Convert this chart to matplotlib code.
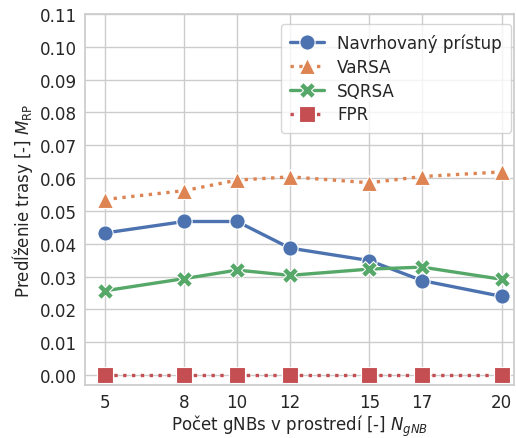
import matplotlib
matplotlib.use("Agg")
import matplotlib.pyplot as plt
import seaborn as sns

gnb_counts = [5, 8, 10, 12, 15, 17, 20]
navrhovany = [0.0433, 0.0468, 0.0468, 0.0387, 0.0349, 0.0288, 0.0240]
varsa = [0.0535, 0.0562, 0.0594, 0.0604, 0.0586, 0.0605, 0.0619]
sqrsa = [0.0257, 0.0294, 0.0320, 0.0304, 0.0323, 0.0329, 0.0292]
fpr = [0.0, 0.0, 0.0, 0.0, 0.0, 0.0, 0.0]
series_names = ["Navrhovaný prístup", "VaRSA", "SQRSA", "FPR"]
y_ticks = [0.00, 0.01, 0.02, 0.03, 0.04, 0.05, 0.06, 0.07, 0.08, 0.09, 0.10, 0.11]

sns.set_theme(style="whitegrid", font_scale=1.1)
pal = sns.color_palette("deep")

fig = plt.figure(figsize=(5.16, 4.39), dpi=100)
ax = fig.add_axes([85 / 516, 1 - 386 / 439, (514 - 85) / 516, (386 - 15) / 439])

styles = [
    dict(color=pal[0], linestyle="-", marker="o"),
    dict(color=pal[1], linestyle=":", marker="^"),
    dict(color=pal[2], linestyle="-", marker="X"),
    dict(color=pal[3], linestyle=":", marker="s"),
]
for vals, name, st in zip([navrhovany, varsa, sqrsa, fpr], series_names, styles):
    ax.plot(gnb_counts, vals, label=name, linewidth=2.4, markersize=11,
            markeredgecolor="white", markeredgewidth=0.8, **st)

ax.set_xticks(gnb_counts)
ax.set_xticklabels([str(v) for v in gnb_counts])
ax.set_yticks(y_ticks)
ax.set_yticklabels([f"{v:.2f}" for v in y_ticks])
ax.tick_params(axis="both", length=0, pad=6)
ax.set_xlim(4.25, 20.47)
ax.set_ylim(-0.003, 0.11)
ax.set_xlabel(r"Počet gNBs v prostredí [-] $N_{gNB}$", fontsize=12, labelpad=1)
ax.set_ylabel(r"Predĺženie trasy [-] $M_{\mathrm{RP}}$", fontsize=12, labelpad=3)

ax.legend(loc="upper right", bbox_to_anchor=(0.993, 0.973), borderaxespad=0,
          handlelength=2.0, labelspacing=0.35, borderpad=0.55)

fig.savefig("out.png", dpi=100)
